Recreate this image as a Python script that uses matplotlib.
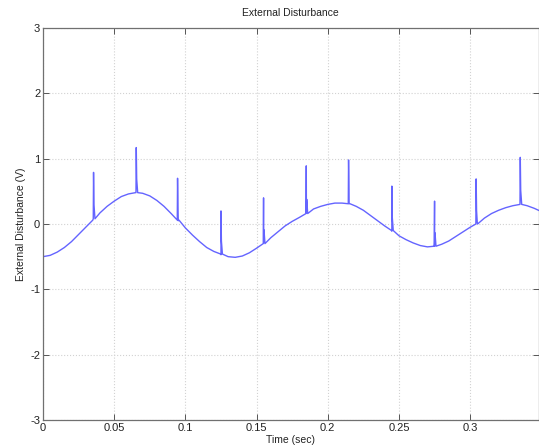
import numpy as np
import matplotlib
matplotlib.use("Agg")
import matplotlib.pyplot as plt

# baseline of the disturbance, every 5 ms
t_base = [0.000, 0.005, 0.010, 0.015, 0.020, 0.025, 0.030, 0.035, 0.040, 0.045,
          0.050, 0.055, 0.060, 0.065, 0.070, 0.075, 0.080, 0.085, 0.090, 0.095,
          0.100, 0.105, 0.110, 0.115, 0.120, 0.125, 0.130, 0.135, 0.140, 0.145,
          0.150, 0.155, 0.160, 0.165, 0.170, 0.175, 0.180, 0.185, 0.190, 0.195,
          0.200, 0.205, 0.210, 0.215, 0.220, 0.225, 0.230, 0.235, 0.240, 0.245,
          0.250, 0.255, 0.260, 0.265, 0.270, 0.275, 0.280, 0.285, 0.290, 0.295,
          0.300, 0.305, 0.310, 0.315, 0.320, 0.325, 0.330, 0.335, 0.340, 0.345,
          0.350]
v_base = [-0.50, -0.48, -0.43, -0.36, -0.27, -0.16, -0.05, 0.06, 0.17, 0.27,
          0.35, 0.42, 0.46, 0.48, 0.47, 0.43, 0.36, 0.27, 0.16, 0.05,
          -0.06, -0.17, -0.27, -0.36, -0.42, -0.47, -0.50, -0.51, -0.49, -0.44,
          -0.37, -0.29, -0.21, -0.12, -0.03, 0.04, 0.10, 0.17, 0.23, 0.27,
          0.30, 0.32, 0.32, 0.31, 0.27, 0.21, 0.13, 0.05, -0.03, -0.11,
          -0.18, -0.24, -0.29, -0.33, -0.35, -0.34, -0.31, -0.26, -0.19, -0.12,
          -0.05, 0.02, 0.09, 0.16, 0.21, 0.25, 0.28, 0.30, 0.28, 0.24,
          0.19]

# spikes: time, level at the foot, peak level
spike_t = [0.0353, 0.0653, 0.0943, 0.1248, 0.1547, 0.1847, 0.2144, 0.2448, 0.2748, 0.3040, 0.3350]
spike_base = [0.08, 0.48, 0.06, -0.46, -0.30, 0.16, 0.31, -0.10, -0.34, 0.00, 0.30]
spike_peak = [0.79, 1.17, 0.70, 0.20, 0.40, 0.89, 0.98, 0.58, 0.35, 0.69, 1.02]

ts = list(t_base)
vs = list(v_base)
for t0, b, p in zip(spike_t, spike_base, spike_peak):
    ts += [t0, t0 + 0.0002, t0 + 0.0005, t0 + 0.0012]
    vs += [b, p, b + 0.3 * (p - b), b]
order = np.argsort(ts, kind="stable")
ts = np.array(ts)[order]
vs = np.array(vs)[order]

plt.rcParams['font.family'] = ['Liberation Sans', 'DejaVu Sans']
plt.rcParams['axes.unicode_minus'] = False
fig = plt.figure(figsize=(5.39, 4.48), dpi=100)
ax = fig.add_axes([43 / 539, 28 / 448, (538.5 - 43) / 539, 392 / 448])

ax.plot(ts, vs, color='#6464ff', linewidth=1.0)

ax.set_xlim(0, 0.348)
ax.set_ylim(-3, 3)
ax.set_xticks([0, 0.05, 0.1, 0.15, 0.2, 0.25, 0.3])
ax.set_xticklabels(['0', '0.05', '0.1', '0.15', '0.2', '0.25', '0.3'])
ax.set_yticks([-3, -2, -1, 0, 1, 2, 3])
ax.grid(True, linestyle=':', color='#d2d2d2', linewidth=0.8)
ax.tick_params(direction='in', length=4, width=0.7, top=True, right=True,
               labelsize=8, pad=2, colors='#555555', labelcolor='#222222')
for s in ax.spines.values():
    s.set_color('#707070')
    s.set_linewidth(0.9)

ax.set_title('External Disturbance', fontsize=7.5, pad=9, color='#222222')
ax.set_xlabel('Time (sec)', fontsize=7.5, labelpad=1.5, color='#222222')
ax.set_ylabel('External Disturbance (V)', fontsize=7.5, labelpad=3, color='#222222')

fig.savefig('out.png', dpi=100)
